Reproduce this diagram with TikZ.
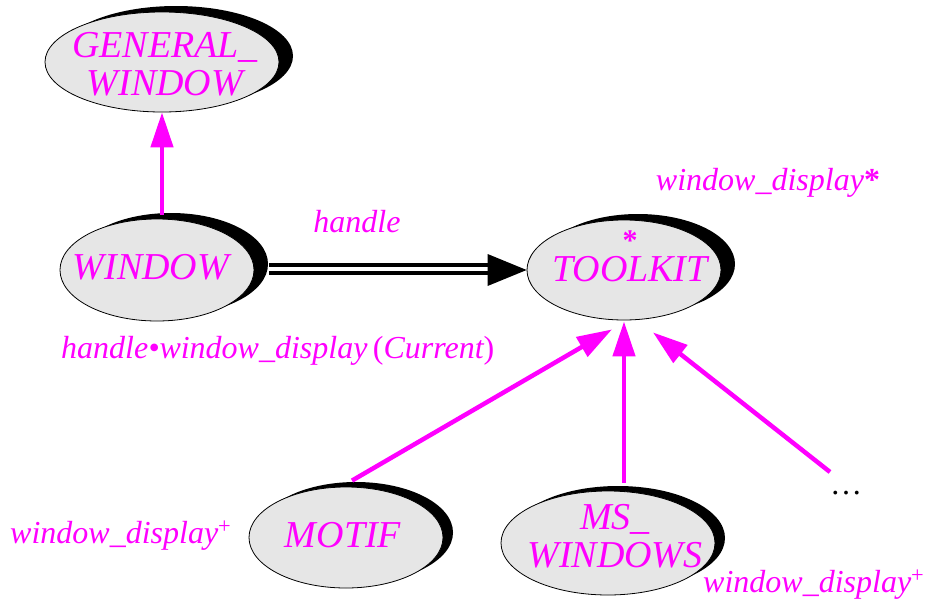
\documentclass[tikz,border=0pt]{standalone}
\usepackage{fontspec}
\setmainfont{Liberation Serif}
\usetikzlibrary{arrows.meta,shapes.geometric,shadows,calc}
\definecolor{mag}{RGB}{255,0,255}
\definecolor{elgray}{RGB}{230,230,230}
\begin{document}
\begin{tikzpicture}[x=1pt,y=-1pt,
  cls/.style={ellipse, draw=black, line width=0.8pt, fill=elgray, inner sep=0pt,
    drop shadow={shadow xshift=14pt, shadow yshift=6pt, fill=black, opacity=1}},
  clsb/.style={ellipse, draw=black, line width=0.8pt, fill=elgray, inner sep=0pt,
    drop shadow={shadow xshift=10pt, shadow yshift=5pt, fill=black, opacity=1}},
  ntext/.style={text=mag, font=\fontsize{38}{38}\selectfont\itshape, align=center, inner sep=0pt},
  lab/.style={text=mag, font=\fontsize{32}{32}\selectfont\itshape, inner sep=0pt},
  inh/.style={draw=mag, line width=4.5pt, -{Triangle[length=35pt,width=22pt]}},
  dbl/.style={draw=black, double=white, double distance=4.4pt, line width=3.8pt},
]
\useasboundingbox (0,0) rectangle (938,600);

% classes
\node[cls, minimum width=234pt, minimum height=100pt] (gw) at (162,62) {};
\node[ntext] (gwt) at (165,64.5) {GENERAL\_\\WINDOW};

\node[cls, minimum width=194pt, minimum height=102pt] (w) at (157,270) {};
\node[ntext, anchor=base] (wt) at (151,279) {WINDOW};

\node[cls, minimum width=194pt, minimum height=100pt] (tk) at (624,270) {};
\node[ntext] (tkt) at (630,256) {{\upshape\bfseries\fontsize{30}{30}\selectfont *}\\[-7pt]TOOLKIT};

\node[clsb, minimum width=194pt, minimum height=101pt] (mo) at (346,537.5) {};
\node[ntext, anchor=base] (mot) at (343,547) {MOTIF};

\node[clsb, minimum width=214pt, minimum height=104pt] (ms) at (608,543) {};
\node[ntext] (mst) at (615,536.5) {MS\_\\WINDOWS};

% labels
\node[lab, anchor=base] (hl) at (357,232) {handle};
\node[lab, anchor=base] (wdstar) at (768,190) {window\_display{\upshape\bfseries *}};
\node[lab, anchor=base west] (call) at (61,358) {handle\textbullet window\_display\,{\upshape(}Current{\upshape)}};
\node[lab, anchor=base west] (wdp1) at (10,543) {window\_display\textsuperscript{\upshape +}};
\node[lab, anchor=base west] (wdp2) at (703,592) {window\_display\textsuperscript{\upshape +}};
\node[text=black, font=\fontsize{32}{32}\selectfont, anchor=base, inner sep=0pt] (dots) at (846,494) {…};
\coordinate (more) at (830,472);

% inheritance arrows
\draw[inh] ($(w.north)+(5,-4)$) -- (gw.south);
\draw[inh] ($(mo.north)+(6,-6)$) -- ($(tk.south)+(-12,9)$);
\draw[inh] ($(ms.north)+(16,-8)$) -- ($(tk.south)+(0,1)$);
\draw[inh] (more) -- ($(tk.south)+(29,12)$);

% client arrow
\draw[dbl] ($(w.east)+(15,-1)$) -- ($(tk.west)+(-37,-1)$);
\fill[black] (tk.west) -- ++(-39,-16) -- ++(0,32) -- cycle;
\end{tikzpicture}
\end{document}
